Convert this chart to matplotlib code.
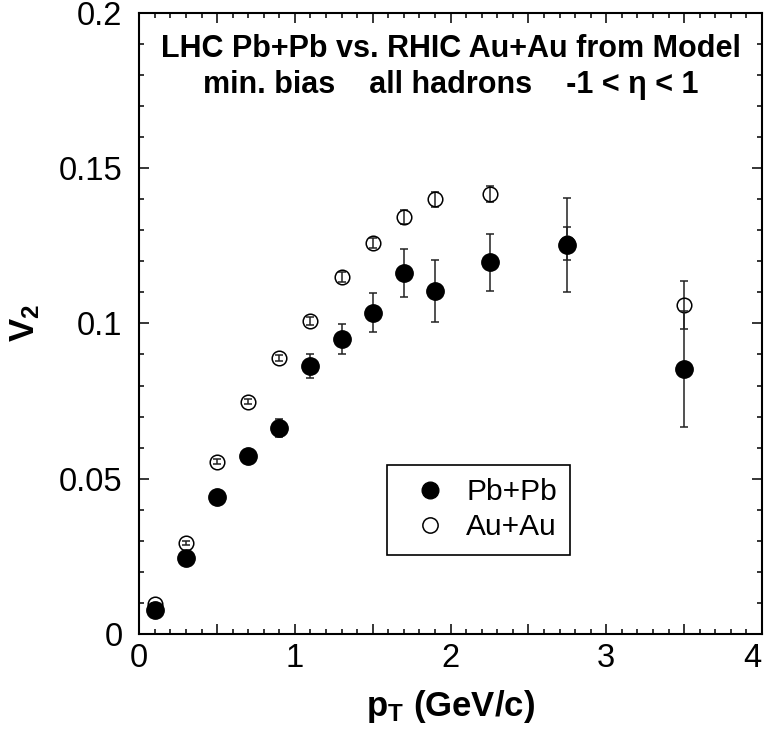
import matplotlib
matplotlib.use("Agg")
import matplotlib.pyplot as plt
from matplotlib.lines import Line2D
from matplotlib.ticker import MultipleLocator, FuncFormatter

plt.rcParams['font.family'] = ['Liberation Sans', 'DejaVu Sans']
plt.rcParams['mathtext.fontset'] = 'custom'
plt.rcParams['mathtext.rm'] = 'Liberation Sans'
plt.rcParams['mathtext.bf'] = 'Liberation Sans:bold'
plt.rcParams['mathtext.it'] = 'Liberation Sans:italic'

# p_T bins (GeV/c)
pt = [0.1, 0.3, 0.5, 0.7, 0.9, 1.1, 1.3, 1.5, 1.7, 1.9, 2.25, 2.75, 3.5]
# LHC Pb+Pb
v2_pbpb = [0.0077, 0.0245, 0.0441, 0.0573, 0.0663, 0.0863, 0.0950, 0.1034,
           0.1163, 0.1105, 0.1198, 0.1253, 0.0853]
err_pbpb = [0.0010, 0.0015, 0.0020, 0.0020, 0.0030, 0.0039, 0.0048, 0.0063,
            0.0078, 0.0100, 0.0092, 0.0151, 0.0187]
# RHIC Au+Au
v2_auau = [0.0095, 0.0293, 0.0554, 0.0747, 0.0889, 0.1008, 0.1150, 0.1260,
           0.1343, 0.1400, 0.1417, 0.1258, 0.1060]
err_auau = [0.0005, 0.0007, 0.0008, 0.0008, 0.0010, 0.0012, 0.0015, 0.0017,
            0.0023, 0.0025, 0.0027, 0.0053, 0.0078]

fig = plt.figure(figsize=(7.65, 7.36), dpi=100)
ax = fig.add_axes([0.182, 0.139, 0.814, 0.843])

ax.errorbar(pt, v2_auau, yerr=err_auau, fmt='o', ms=10.5, mfc='none', mec='black',
            mew=1.1, ecolor='#222222', elinewidth=1.1, capsize=3, capthick=1.1, zorder=2)
ax.errorbar(pt, v2_pbpb, yerr=err_pbpb, fmt='o', ms=12.5, mfc='black', mec='black',
            ecolor='#222222', elinewidth=1.1, capsize=3, capthick=1.1, zorder=3)

ax.set_xlim(0, 4)
ax.set_ylim(0, 0.2)

ax.xaxis.set_major_locator(MultipleLocator(0.5))
ax.xaxis.set_minor_locator(MultipleLocator(0.1))
ax.xaxis.set_major_formatter(FuncFormatter(lambda v, p: '%d' % v if abs(v - round(v)) < 1e-6 else ''))
ax.yaxis.set_major_locator(MultipleLocator(0.05))
ax.yaxis.set_minor_locator(MultipleLocator(0.01))
ax.yaxis.set_major_formatter(FuncFormatter(lambda v, p: '0' if v == 0 else ('%g' % round(v, 3))))

ax.tick_params(which='both', direction='in', top=True, right=True, width=1.1, labelsize=23.5)
ax.tick_params(which='major', length=7)
ax.tick_params(which='minor', length=3.5)
ax.tick_params(axis='x', which='major', pad=7)
ax.tick_params(axis='y', which='major', pad=12)
for s in ax.spines.values():
    s.set_linewidth(1.5)

ax.set_xlabel(r'$\mathbf{p_T}$ (GeV/c)', fontsize=25, fontweight='bold', labelpad=10)
ax.set_ylabel(r'$\mathbf{V_2}$', fontsize=25, fontweight='bold', labelpad=12)

ax.text(0.5, 0.943, 'LHC Pb+Pb vs. RHIC Au+Au from Model', transform=ax.transAxes,
        ha='center', va='center', fontsize=22, fontweight='bold')
ax.text(0.5, 0.884, 'min. bias    all hadrons    -1 < \u03b7 < 1', transform=ax.transAxes,
        ha='center', va='center', fontsize=22, fontweight='bold')

fig.canvas.draw()
# keep the last x tick label ("4") inside the figure
lbls = [t for t in ax.get_xticklabels() if t.get_text() == '4']
for t in lbls:
    t.set_horizontalalignment('right')
    t.set_x(4.04)

handles = [Line2D([], [], ls='none', marker='o', ms=12, mfc='black', mec='black'),
           Line2D([], [], ls='none', marker='o', ms=11, mfc='none', mec='black', mew=1.1)]
leg = ax.legend(handles, ['Pb+Pb', 'Au+Au'], loc='lower left', bbox_to_anchor=(0.398, 0.127),
                borderaxespad=0, fontsize=21.5, frameon=True, fancybox=False, framealpha=1,
                edgecolor='black', handletextpad=0.2, borderpad=0.45, labelspacing=0.25,
                handlelength=2.0)
leg.get_frame().set_linewidth(1.2)

fig.savefig('out.png', dpi=100)
